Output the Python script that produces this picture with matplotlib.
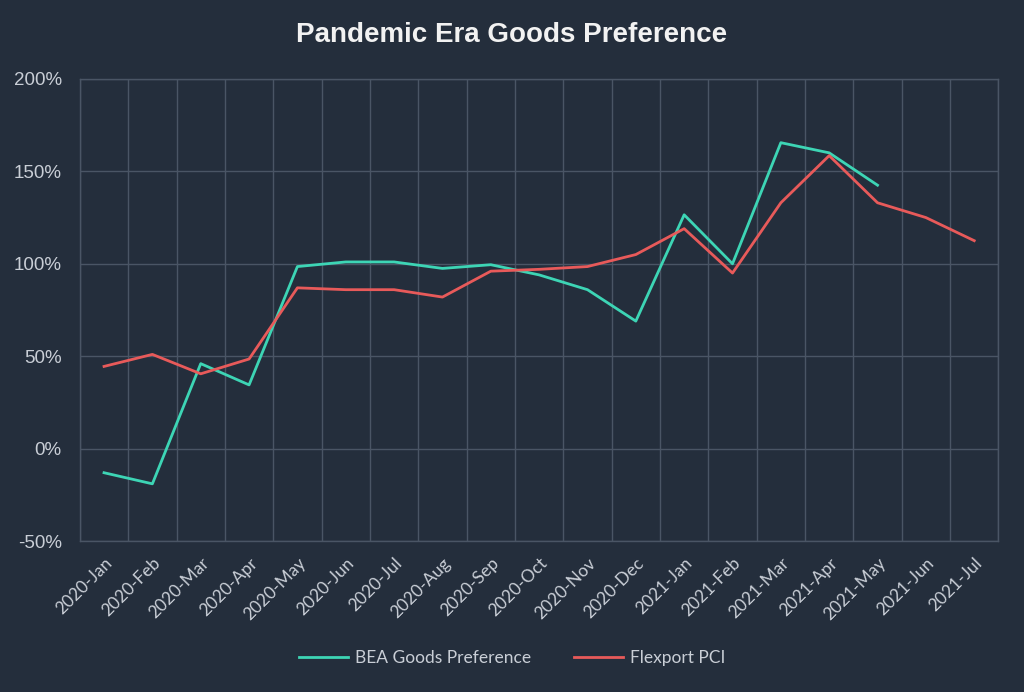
import numpy as np
import matplotlib
matplotlib.use("Agg")
import matplotlib.pyplot as plt
from matplotlib.ticker import FuncFormatter, FixedLocator

# Monthly categories
months = ["2020-Jan", "2020-Feb", "2020-Mar", "2020-Apr", "2020-May", "2020-Jun",
          "2020-Jul", "2020-Aug", "2020-Sep", "2020-Oct", "2020-Nov", "2020-Dec",
          "2021-Jan", "2021-Feb", "2021-Mar", "2021-Apr", "2021-May", "2021-Jun",
          "2021-Jul"]

# Series values in percent (BEA ends at 2021-May)
bea_goods = [-13, -19, 46, 34.5, 98.5, 101, 101, 97.5, 99.5, 94, 86, 69,
             126.5, 100, 165.5, 160, 142.5]
flexport_pci = [44.5, 51, 40.5, 48.5, 87, 86, 86, 82, 96, 97, 98.5, 105,
                119, 95, 133, 158.5, 133, 125, 112.5]

bg = "#242e3c"
grid_col = "#4a5565"
text_col = "#c9ced6"
teal = "#3dd5b5"
red = "#e85a5a"

fig = plt.figure(figsize=(10.24, 6.92), dpi=100, facecolor=bg)
ax = fig.add_axes([0.078, 0.218, 0.897, 0.668], facecolor=bg)

ax.plot(np.arange(len(bea_goods)), bea_goods, color=teal, lw=2, label="BEA Goods Preference")
ax.plot(np.arange(len(flexport_pci)), flexport_pci, color=red, lw=2, label="Flexport PCI")

ax.set_xlim(-0.5, len(months) - 0.5)
ax.set_ylim(-50, 200)
ax.set_yticks(np.arange(-50, 201, 50))
ax.yaxis.set_major_formatter(FuncFormatter(lambda v, p: f"{v:.0f}%"))
ax.set_xticks(np.arange(len(months)))
ax.set_xticklabels(months, rotation=45, ha="right", rotation_mode="anchor",
                   fontsize=12.5, color=text_col, family="Lato")
ax.xaxis.set_minor_locator(FixedLocator(np.arange(-0.5, len(months), 1)))

for lbl in ax.get_yticklabels():
    lbl.set_family("Liberation Sans")
    lbl.set_fontsize(13.5)
    lbl.set_color(text_col)

ax.tick_params(axis="both", which="both", length=0)
ax.tick_params(axis="x", pad=10)
ax.tick_params(axis="y", pad=13)
ax.grid(True, axis="y", which="major", color=grid_col, lw=1)
ax.grid(True, axis="x", which="minor", color=grid_col, lw=1)
ax.grid(False, axis="x", which="major")
for s in ax.spines.values():
    s.set_color(grid_col)
    s.set_linewidth(1)
ax.set_axisbelow(True)

fig.text(0.5, 0.95, "Pandemic Era Goods Preference", ha="center", va="center",
         fontsize=20, fontweight="bold", color="#f2f2f2", family="Liberation Sans")

fig.legend(loc="center", bbox_to_anchor=(0.5, 0.049), ncol=2, frameon=False,
           prop={"family": "Lato", "size": 12.5}, labelcolor=text_col,
           handlelength=2.8, columnspacing=2.5, handletextpad=0.4)

fig.savefig("out.png", dpi=100, facecolor=bg)
